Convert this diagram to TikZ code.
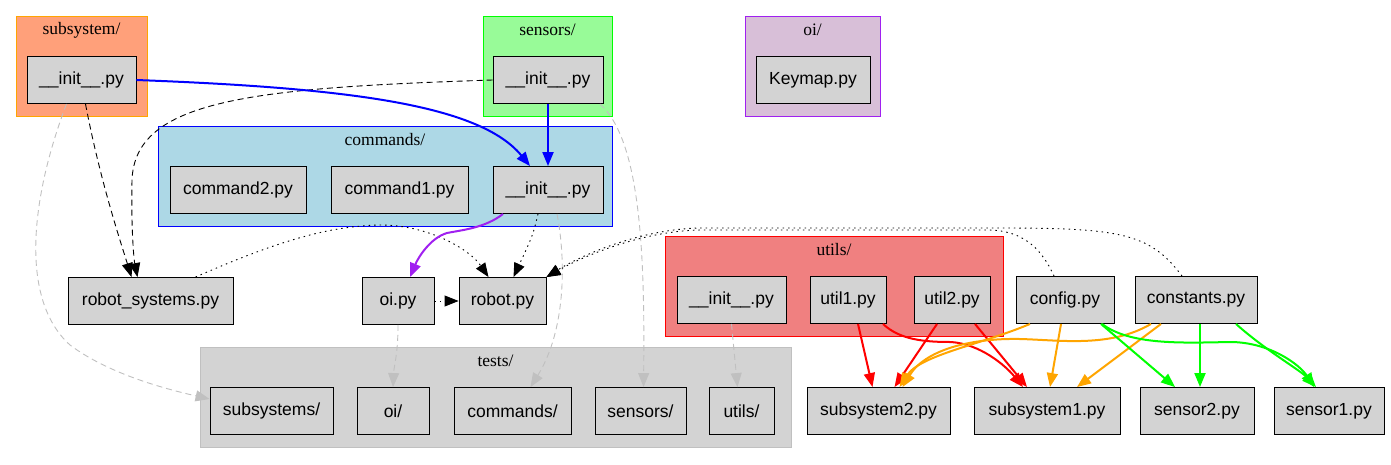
\documentclass[tikz,border=0pt]{standalone}
\usepackage{fontspec}
\setmainfont{Liberation Serif}
\setsansfont{Liberation Sans}
\usetikzlibrary{arrows.meta,calc}
\definecolor{nodegray}{HTML}{D3D3D3}
\definecolor{salmonfill}{HTML}{FFA07A}
\definecolor{orangeline}{HTML}{FFA500}
\definecolor{palegreenfill}{HTML}{98FB98}
\definecolor{greenline}{HTML}{00FF00}
\definecolor{thistlefill}{HTML}{D8BFD8}
\definecolor{purpleline}{HTML}{A020F0}
\definecolor{lightbluefill}{HTML}{ADD8E6}
\definecolor{bluelinec}{HTML}{0000FF}
\definecolor{coralfill}{HTML}{F08080}
\definecolor{redline}{HTML}{FF0000}
\definecolor{testsline}{HTML}{C0C0C0}
\definecolor{grayedge}{HTML}{C0C0C0}
\begin{document}
\begin{tikzpicture}[x=1pt,y=-1pt,
  file/.style={draw=black, fill=nodegray, line width=0.9pt,
    font=\sffamily\fontsize{17.5}{20}\selectfont, minimum height=47pt, inner sep=0pt},
  cluster/.style={line width=1pt},
  clabel/.style={font=\rmfamily\fontsize{17.5}{20}\selectfont, inner sep=0pt},
  tip/.style={-{Triangle[length=14pt,width=11pt]}},
  boldedge/.style={tip, line width=2pt},
  blackdash/.style={tip, black, line width=0.9pt, dash pattern=on 6pt off 4pt},
  blackdot/.style={tip, black, line width=0.9pt, dash pattern=on 1.5pt off 4pt},
  grayedgestyle/.style={tip, grayedge, line width=0.9pt, dash pattern=on 6pt off 4pt},
]
\useasboundingbox (0,0) rectangle (1391,464);
% clusters
\draw[cluster, fill=salmonfill, draw=orangeline] (16,16) rectangle (147,116);
\node[clabel] (lsub) at (81.5,30) {subsystem/};
\draw[cluster, fill=palegreenfill, draw=greenline] (483,16) rectangle (612,116);
\node[clabel] (lsens) at (547.5,30) {sensors/};
\draw[cluster, fill=thistlefill, draw=purpleline] (745,16) rectangle (880,116);
\node[clabel] (loi) at (812.5,30) {oi/};
\draw[cluster, fill=lightbluefill, draw=bluelinec] (158,126) rectangle (612,226);
\node[clabel] (lcmd) at (385,140) {commands/};
\draw[cluster, fill=coralfill, draw=redline] (665,236) rectangle (1003,336);
\node[clabel] (lutil) at (834,250) {utils/};
\draw[cluster, fill=nodegray, draw=testsline] (200,347) rectangle (791,447);
\node[clabel] (ltests) at (495.5,361) {tests/};
% nodes
\node[file, minimum width=109pt] (subinit) at (81.5,80) {\_\_init\_\_.py};
\node[file, minimum width=110pt] (sensinit) at (548,80) {\_\_init\_\_.py};
\node[file, minimum width=114pt] (keymap) at (813,80) {Keymap.py};
\node[file, minimum width=136pt] (cmd2) at (238,190) {command2.py};
\node[file, minimum width=137pt] (cmd1) at (399.5,190) {command1.py};
\node[file, minimum width=110pt] (cmdinit) at (548,190) {\_\_init\_\_.py};
\node[file, minimum width=165pt] (robsys) at (150.5,301) {robot\_systems.py};
\node[file, minimum width=72pt] (oipy) at (398,301) {oi.py};
\node[file, minimum width=87pt] (robot) at (502.5,301) {robot.py};
\node[file, minimum width=109pt] (utilinit) at (731.5,300) {\_\_init\_\_.py};
\node[file, minimum width=76pt] (util1) at (848,300) {util1.py};
\node[file, minimum width=76pt] (util2) at (952,300) {util2.py};
\node[file, minimum width=98pt] (config) at (1065,300) {config.py};
\node[file, minimum width=122pt] (constants) at (1196,300) {constants.py};
\node[file, minimum width=123pt] (tsub) at (271.5,411) {subsystems/};
\node[file, minimum width=72pt] (toi) at (393,411) {oi/};
\node[file, minimum width=117pt] (tcmd) at (512.5,411) {commands/};
\node[file, minimum width=91pt] (tsens) at (640.5,411) {sensors/};
\node[file, minimum width=65pt] (tutil) at (741.5,411) {utils/};
\node[file, minimum width=143pt] (sub2) at (878.5,411) {subsystem2.py};
\node[file, minimum width=146pt] (sub1) at (1047,411) {subsystem1.py};
\node[file, minimum width=114pt] (sens2) at (1197,411) {sensor2.py};
\node[file, minimum width=110pt] (sens1) at (1329,411) {sensor1.py};
% gray dashed edges to tests
\draw[grayedgestyle] ([xshift=-15pt]subinit.south) .. controls (30,200) and (20,300) .. (70,345)
   .. controls (110,375) and (170,390) .. ([yshift=12pt]tsub.west);
\draw[grayedgestyle] (oipy.south) .. controls (398,355) and (394,365) .. (toi.north);
\draw[grayedgestyle] ([xshift=9pt]cmdinit.south) .. controls (566,260) and (566,330) .. ([xshift=18pt]tcmd.north);
\draw[grayedgestyle] ([xshift=52pt]sensinit.south) .. controls (640,140) and (645,250) .. ([xshift=3pt]tsens.north);
\draw[grayedgestyle] (utilinit.south) -- ([xshift=-4pt]tutil.north);
% black edges
\draw[blackdash] (sensinit.west) .. controls (250,88) and (135,100) .. (132,180)
   .. controls (131,230) and (134,260) .. ([xshift=-13pt]robsys.north);
\draw[blackdash] ([xshift=4pt]subinit.south) .. controls (100,180) and (120,240) .. ([xshift=-19pt]robsys.north);
\draw[blackdot] ([xshift=45pt]robsys.north) .. controls (280,240) and (330,226) .. (380,225)
   .. controls (430,225) and (470,250) .. ([xshift=-14pt]robot.north);
\draw[blackdot] (oipy.east) -- (robot.west);
\draw[blackdot] ([xshift=-10pt]cmdinit.south) .. controls (533,235) .. ([xshift=11pt]robot.north);
\draw[blackdot] ([xshift=-11pt]config.north) .. controls (1040,245) and (1020,231) .. (990,230)
   -- (700,230) .. controls (640,231) and (580,258) .. (robot.north east);
\draw[blackdot] ([xshift=-14pt]constants.north) .. controls (1150,233) and (1120,228) .. (1000,228)
   -- (700,228) .. controls (640,229) and (580,256) .. (robot.north east);
% blue edges
\draw[boldedge, bluelinec] (subinit.east) .. controls (350,88) and (480,105) .. ([xshift=-18pt]cmdinit.north);
\draw[boldedge, bluelinec] (sensinit.south) -- (cmdinit.north);
% purple
\draw[boldedge, purpleline] ([xshift=-45pt]cmdinit.south) .. controls (485,228) and (462,230) .. (447,233)
   .. controls (430,238) and (418,258) .. ([xshift=12pt]oipy.north);
% red
\draw[boldedge, redline] ([xshift=10pt]util1.south) -- ([xshift=-6pt]sub2.north);
\draw[boldedge, redline] ([xshift=35pt]util1.south) .. controls (900,340) and (925,342) .. (951,342)
   .. controls (980,344) and (1005,365) .. ([xshift=-24pt]sub1.north);
\draw[boldedge, redline] ([xshift=-15pt]util2.south) -- ([xshift=16pt]sub2.north);
\draw[boldedge, redline] ([xshift=23pt]util2.south) -- ([xshift=-20pt]sub1.north);
% orange
\draw[boldedge, orangeline] ([xshift=-35pt]config.south) .. controls (980,345) and (920,355) .. ([xshift=21pt]sub2.north);
\draw[boldedge, orangeline] ([xshift=-4pt]config.south) -- ([xshift=3pt]sub1.north);
\draw[boldedge, orangeline] ([xshift=-45pt]constants.south) .. controls (1110,348) and (1060,340) .. (1020,339)
   .. controls (970,338) and (925,350) .. ([xshift=24pt]sub2.north);
\draw[boldedge, orangeline] ([xshift=-35pt]constants.south) -- ([xshift=30pt]sub1.north);
% green
\draw[boldedge, greenline] ([xshift=36pt]config.south) -- ([xshift=-22pt]sens2.north);
\draw[boldedge, greenline] ([xshift=37pt]config.south) .. controls (1130,345) and (1180,343) .. (1230,342)
   .. controls (1270,342) and (1300,365) .. ([xshift=-15pt]sens1.north);
\draw[boldedge, greenline] ([xshift=4pt]constants.south) -- ([xshift=3pt]sens2.north);
\draw[boldedge, greenline] ([xshift=40pt]constants.south) .. controls (1265,350) and (1300,370) .. ([xshift=-13pt]sens1.north);
\end{tikzpicture}
\end{document}
